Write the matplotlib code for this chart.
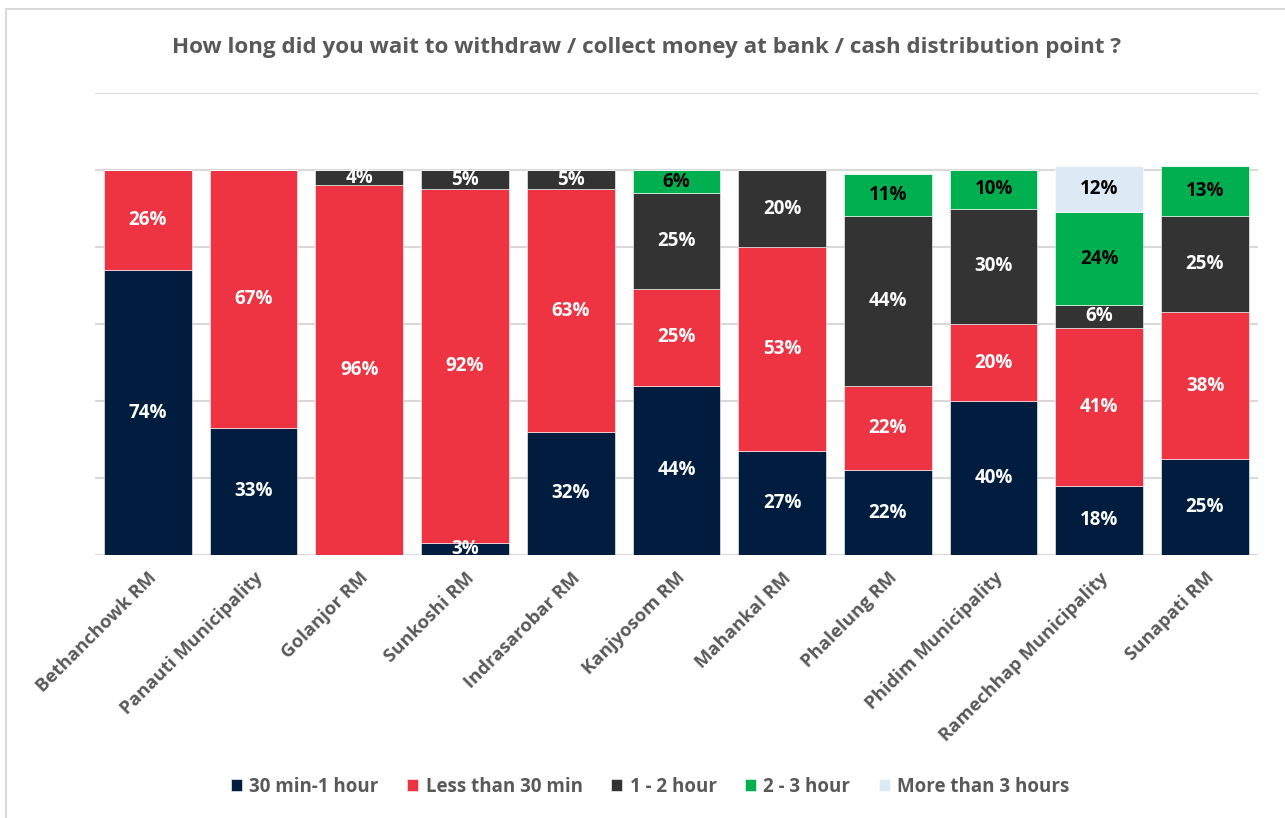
import numpy as np
import matplotlib.pyplot as plt
import matplotlib.font_manager as fm
from matplotlib.patches import Rectangle

# pick the static Open Sans Bold file directly
bold_path = [f.fname for f in fm.fontManager.ttflist if f.fname.endswith('OpenSans-Bold.ttf')][0]


def fp(size):
    return fm.FontProperties(fname=bold_path, size=size)


places = ['Bethanchowk RM', 'Panauti Municipality', 'Golanjor RM', 'Sunkoshi RM',
          'Indrasarobar RM', 'Kanjyosom RM', 'Mahankal RM', 'Phalelung RM',
          'Phidim Municipality', 'Ramechhap Municipality', 'Sunapati RM']

min30_1h = [74, 33, 0, 3, 32, 44, 27, 22, 40, 18, 25]
less30 = [26, 67, 96, 92, 63, 25, 53, 22, 20, 41, 38]
h1_2 = [0, 0, 4, 5, 5, 25, 20, 44, 30, 6, 25]
h2_3 = [0, 0, 0, 0, 0, 6, 0, 11, 10, 24, 13]
more3 = [0, 0, 0, 0, 0, 0, 0, 0, 0, 12, 0]

series = [
    ('30 min-1 hour', min30_1h, '#001D3F', 'white'),
    ('Less than 30 min', less30, '#EE3342', 'white'),
    ('1 - 2 hour', h1_2, '#333333', 'white'),
    ('2 - 3 hour', h2_3, '#00B050', 'black'),
    ('More than 3 hours', more3, '#DDEAF6', 'black'),
]

grey = '#595959'

fig = plt.figure(figsize=(12.85, 8.18), dpi=100)
ax = fig.add_axes([0.0739, 0.3215, 0.905, 0.5648])

x = np.arange(len(places))
bottom = np.zeros(len(places))
for name, vals, col, txt in series:
    vals = np.array(vals, dtype=float)
    ax.bar(x, vals, 0.83, bottom=bottom, color=col, label=name,
           edgecolor='white', linewidth=0.4, zorder=3)
    for xi, b, v in zip(x, bottom, vals):
        if v > 0:
            ax.text(xi, b + v / 2, f'{v:.0f}%', ha='center', va='center',
                    color=txt, fontproperties=fp(13.5), zorder=4, clip_on=True)
    bottom += vals

ax.set_xlim(-0.5, len(places) - 0.5)
ax.set_ylim(0, 120)
ax.set_yticks(np.arange(0, 121, 20))
ax.set_yticklabels([])
ax.tick_params(axis='y', length=0)
ax.tick_params(axis='x', length=0, pad=10)
ax.yaxis.grid(True, color='#D9D9D9', linewidth=1.5, zorder=0)
for s in ax.spines.values():
    s.set_visible(False)

ax.set_xticks(x)
ax.set_xticklabels(places, rotation=45, ha='right', rotation_mode='anchor',
                   fontproperties=fp(13.3), color=grey)

fig.text(0.503, 0.9425, 'How long did you wait to withdraw / collect money at bank / cash distribution point ?',
         ha='center', va='center', fontproperties=fp(16.1), color=grey)

leg = fig.legend(loc='center', bbox_to_anchor=(0.506, 0.038), ncol=5, frameon=False,
                 handlelength=0.6, handleheight=0.6, handletextpad=0.4,
                 columnspacing=1.5, prop=fp(13.5))
for t in leg.get_texts():
    t.set_color(grey)

# outer chart border
fig.patches.append(Rectangle((0.005, -0.1), 1.2, 1.089, transform=fig.transFigure,
                             fill=False, edgecolor='#D9D9D9', linewidth=1.5))

fig.savefig('out.png', dpi=100, facecolor='white')
